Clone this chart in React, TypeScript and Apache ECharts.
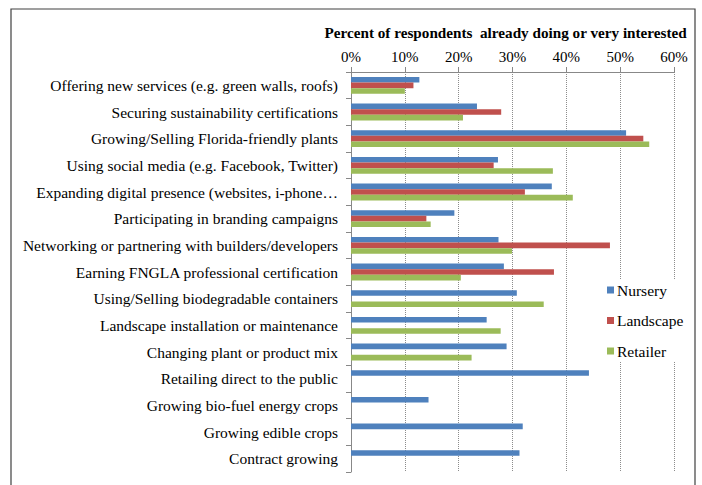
import React, { useEffect, useRef } from "react";
import * as echarts from "echarts";

const categories = [
  "Offering new services (e.g. green walls, roofs)",
  "Securing sustainability certifications",
  "Growing/Selling Florida-friendly plants",
  "Using social media (e.g. Facebook, Twitter)",
  "Expanding digital presence (websites, i-phone\u2026",
  "Participating in branding campaigns",
  "Networking or partnering with builders/developers",
  "Earning FNGLA professional certification",
  "Using/Selling biodegradable containers",
  "Landscape installation or maintenance",
  "Changing plant or product mix",
  "Retailing direct to the public",
  "Growing bio-fuel energy crops",
  "Growing edible crops",
  "Contract growing",
];

const nursery = [12.7, 23.4, 51.1, 27.3, 37.3, 19.2, 27.4, 28.4, 30.8, 25.2, 28.9, 44.2, 14.4, 31.9, 31.3];
const landscape = [11.6, 27.9, 54.3, 26.5, 32.3, 14.0, 48.1, 37.7, null, null, null, null, null, null, null];
const retailer = [10.0, 20.8, 55.4, 37.5, 41.2, 14.8, 29.9, 20.4, 35.8, 27.8, 22.4, null, null, null, null];

const seriesNames = ["Nursery", "Landscape", "Retailer"];
const seriesColors = ["#4F81BD", "#C0504D", "#9BBB59"];
const axisTicks = { min: 0, max: 60, interval: 10 };
const titleText = "Percent of respondents  already doing or very interested";

const FONT = "Times New Roman, Liberation Serif, serif";

export default function App() {
  const ref = useRef<HTMLDivElement>(null);
  useEffect(() => {
    if (!ref.current) return;
    const chart = echarts.init(ref.current, null, { renderer: "svg" });
    const data = [nursery, landscape, retailer];
    chart.setOption({
      animation: false,
      backgroundColor: "#ffffff",
      textStyle: { fontFamily: FONT },
      title: {
        text: titleText,
        right: 10,
        top: 20,
        textStyle: { fontFamily: FONT, fontSize: 15.2, fontWeight: "bold", color: "#000" },
      },
      graphic: [
        {
          type: "rect",
          shape: { x: 11, y: 9, width: 684, height: 495 },
          style: { fill: "none", stroke: "#404040", lineWidth: 1.2 },
          silent: true,
        },
      ],
      legend: {
        orient: "vertical",
        left: 603,
        top: 280,
        itemWidth: 7,
        itemHeight: 7,
        itemGap: 14.5,
        icon: "rect",
        backgroundColor: "#ffffff",
        padding: [2, 4, 2, 4],
        textStyle: { fontFamily: FONT, fontSize: 15.5, color: "#000", padding: [0, 0, 0, -2] },
        data: seriesNames,
      },
      grid: { left: 351, right: 28, top: 72, bottom: 13, containLabel: false },
      xAxis: {
        type: "value",
        position: "top",
        min: axisTicks.min,
        max: axisTicks.max,
        interval: axisTicks.interval,
        axisLabel: {
          formatter: "{value}%",
          fontFamily: FONT,
          fontSize: 15,
          color: "#000",
          margin: 8,
        },
        axisLine: { show: true, lineStyle: { color: "#888" } },
        axisTick: { show: true, length: 5, lineStyle: { color: "#888" } },
        splitLine: { show: true, lineStyle: { type: "dotted", color: "#8c8c8c", width: 1 } },
      },
      yAxis: {
        type: "category",
        inverse: true,
        data: categories,
        axisLabel: { fontFamily: FONT, fontSize: 15.5, color: "#000", margin: 13 },
        axisLine: { show: true, lineStyle: { color: "#888" } },
        axisTick: { show: true, length: 5, lineStyle: { color: "#888" } },
      },
      series: seriesNames.map((name, i) => ({
        name,
        type: "bar",
        data: data[i],
        itemStyle: { color: seriesColors[i] },
        barGap: "0%",
        barCategoryGap: "37%",
      })),
    });
    return () => chart.dispose();
  }, []);
  return (
    <div
      ref={ref}
      style={{ position: "fixed", left: 0, top: 0, width: 702, height: 485 }}
    />
  );
}
